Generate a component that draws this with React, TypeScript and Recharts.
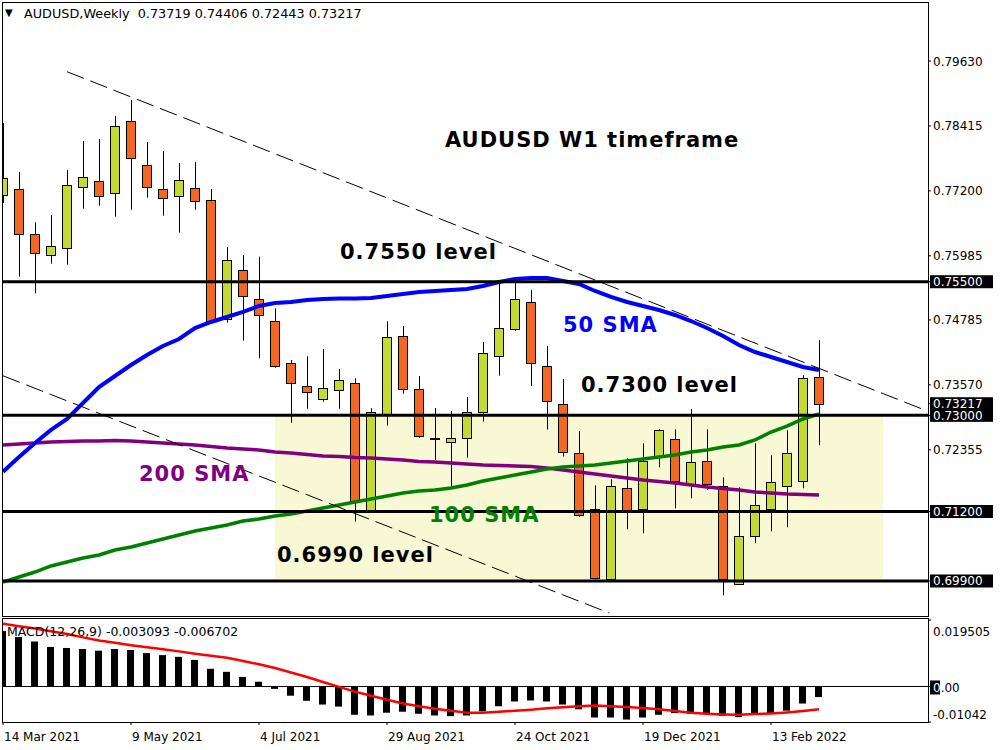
import React from "react";
import { ComposedChart, Bar, Line, XAxis, YAxis, ReferenceLine, ReferenceArea } from "recharts";

// weekly bars, index 0 = week of 14 Mar 2021, last = week of 6 Mar 2022
const weeks = Array.from({ length: 52 }, (_, k) => k);

const opens = [0.77123, 0.7723, 0.76388, 0.75995, 0.76126, 0.77267, 0.7738, 0.77155, 0.78502, 0.77679, 0.7723, 0.77099, 0.77249, 0.77024, 0.74797, 0.75714, 0.75171, 0.7476, 0.73974, 0.73543, 0.733, 0.73469, 0.736, 0.71223, 0.7302, 0.74479, 0.73487, 0.72576, 0.72496, 0.7257, 0.73057, 0.74105, 0.7461, 0.75115, 0.73918, 0.73207, 0.7229, 0.71253, 0.69932, 0.71635, 0.71242, 0.72215, 0.72552, 0.7171, 0.7214, 0.71672, 0.69838, 0.70737, 0.71242, 0.71672, 0.71766, 0.73719];
const highs = [0.78471, 0.77554, 0.76612, 0.76749, 0.77591, 0.78134, 0.78171, 0.78602, 0.78901, 0.78115, 0.77947, 0.77722, 0.77741, 0.77236, 0.7615, 0.76, 0.75969, 0.75003, 0.74036, 0.74105, 0.74241, 0.73867, 0.73693, 0.73132, 0.7476, 0.74672, 0.73736, 0.73137, 0.73081, 0.73343, 0.74372, 0.75471, 0.75514, 0.75346, 0.74298, 0.7368, 0.72707, 0.71691, 0.71803, 0.72196, 0.72477, 0.72739, 0.72739, 0.73119, 0.72739, 0.71841, 0.71653, 0.72477, 0.72252, 0.7272, 0.7375, 0.74406];
const lows = [0.76974, 0.75594, 0.75284, 0.75838, 0.75819, 0.76867, 0.76923, 0.76717, 0.76848, 0.77073, 0.76736, 0.76418, 0.76848, 0.74728, 0.74734, 0.74397, 0.74067, 0.73892, 0.72862, 0.73124, 0.73255, 0.73124, 0.7101, 0.7121, 0.72806, 0.73405, 0.72582, 0.72164, 0.71665, 0.72207, 0.72881, 0.73742, 0.74578, 0.73549, 0.72735, 0.7223, 0.71103, 0.69925, 0.69925, 0.70867, 0.70793, 0.72028, 0.7126, 0.71448, 0.71603, 0.69632, 0.6983, 0.70606, 0.7083, 0.70905, 0.71635, 0.72443];
const closes = [0.77441, 0.76388, 0.76032, 0.76163, 0.77305, 0.77454, 0.77099, 0.78409, 0.7781, 0.77267, 0.77062, 0.77398, 0.77005, 0.7476, 0.75901, 0.75228, 0.74872, 0.73918, 0.736, 0.73431, 0.73506, 0.73656, 0.71373, 0.73068, 0.7446, 0.73487, 0.72608, 0.7258, 0.7257, 0.73057, 0.74161, 0.74629, 0.75171, 0.73974, 0.73263, 0.72308, 0.71129, 0.69951, 0.71672, 0.71223, 0.7214, 0.7272, 0.71766, 0.72121, 0.7171, 0.69932, 0.70737, 0.71317, 0.71747, 0.7229, 0.737, 0.73217];

const sma50 = [0.71945, 0.7222, 0.72482, 0.72726, 0.72932, 0.73231, 0.7353, 0.73736, 0.73942, 0.74129, 0.74298, 0.74429, 0.74634, 0.74747, 0.7484, 0.74934, 0.75046, 0.75102, 0.75121, 0.75158, 0.75177, 0.75186, 0.75186, 0.75196, 0.75233, 0.75271, 0.75308, 0.75327, 0.75346, 0.75364, 0.7542, 0.75495, 0.75551, 0.7557, 0.7557, 0.75514, 0.75458, 0.75327, 0.75215, 0.75121, 0.75046, 0.74971, 0.74878, 0.74765, 0.74634, 0.74485, 0.74316, 0.74185, 0.74092, 0.73998, 0.73905, 0.73848];
const sma100 = [0.69881, 0.69975, 0.70068, 0.70181, 0.70256, 0.7033, 0.70387, 0.7048, 0.70536, 0.70611, 0.70686, 0.70761, 0.70836, 0.70892, 0.70948, 0.71023, 0.7106, 0.71116, 0.71154, 0.7121, 0.71266, 0.71322, 0.71378, 0.71434, 0.71491, 0.71547, 0.71584, 0.71603, 0.7164, 0.71696, 0.71771, 0.71827, 0.71884, 0.7194, 0.71996, 0.72033, 0.72052, 0.72071, 0.72108, 0.72146, 0.72183, 0.7222, 0.72258, 0.72314, 0.72351, 0.72408, 0.72445, 0.72539, 0.72688, 0.728, 0.72932, 0.73025];
const sma200 = [0.72445, 0.72464, 0.72482, 0.72501, 0.7251, 0.7252, 0.7252, 0.72529, 0.7252, 0.72501, 0.72482, 0.72464, 0.72445, 0.72417, 0.72389, 0.7237, 0.72351, 0.72314, 0.72295, 0.72267, 0.72239, 0.7223, 0.72211, 0.72202, 0.72183, 0.72164, 0.72136, 0.72127, 0.72108, 0.72089, 0.72071, 0.72061, 0.72052, 0.72043, 0.72015, 0.71977, 0.7194, 0.71902, 0.71865, 0.71827, 0.7179, 0.71762, 0.71734, 0.71696, 0.71659, 0.71631, 0.71603, 0.71565, 0.71547, 0.71528, 0.71519, 0.71509];

const macdHist = [0.0163, 0.0145, 0.0132, 0.0116, 0.0113, 0.011, 0.0105, 0.011, 0.0107, 0.0098, 0.0092, 0.0087, 0.0078, 0.0052, 0.0043, 0.0028, 0.0014, -0.0007, -0.0027, -0.0042, -0.0053, -0.0059, -0.0083, -0.0085, -0.0077, -0.0074, -0.008, -0.0085, -0.0087, -0.0085, -0.0073, -0.0058, -0.0044, -0.0041, -0.0044, -0.0053, -0.0067, -0.0091, -0.0091, -0.0097, -0.0091, -0.0083, -0.0078, -0.008, -0.008, -0.0086, -0.009, -0.0083, -0.0079, -0.0071, -0.005, -0.0031];
const macdSignal = [0.0184, 0.0177, 0.017, 0.0162, 0.0154, 0.0144, 0.0135, 0.0128, 0.0121, 0.0115, 0.0109, 0.0103, 0.0096, 0.009, 0.0084, 0.0075, 0.0065, 0.0054, 0.0041, 0.0028, 0.0013, -0.0001, -0.0015, -0.0027, -0.0039, -0.005, -0.0058, -0.0065, -0.0071, -0.0077, -0.0077, -0.0074, -0.0071, -0.0068, -0.0064, -0.0061, -0.0058, -0.0056, -0.0058, -0.006, -0.0063, -0.0067, -0.0072, -0.0077, -0.008, -0.0082, -0.0083, -0.0081, -0.0079, -0.0076, -0.0072, -0.0067];

const priceTicks = [0.7963, 0.78415, 0.772, 0.75985, 0.74785, 0.7357, 0.72355];
const markedLevels = [0.755, 0.73217, 0.73, 0.712, 0.699];
const levelLines = [0.755, 0.73, 0.712, 0.699];
const macdTicks = [0.019505, 0, -0.01042];
const dateTickIdx = [0, 8, 16, 24, 32, 40, 48];
const dateLabels = ["14 Mar 2021", "9 May 2021", "4 Jul 2021", "29 Aug 2021", "24 Oct 2021", "19 Dec 2021", "13 Feb 2022"];

// trend channel lines (week index, price)
const upperTrend = [{ x: 4, y: 0.7943 }, { x: 57.6, y: 0.731 }];
const lowerTrend = [{ x: 0, y: 0.7374 }, { x: 37.9, y: 0.693 }];
// shaded support zone
const zoneWeeks = [17, 55];
const zonePrices = [0.699, 0.73];

const X_MAX = 57.8125;
const UP = "#C5D934";
const DOWN = "#F26722";

const Candle = (props: any) => {
  const { x, y, width, height, payload } = props;
  if (!payload || !(height > 0)) return <g />;
  const { open, close, high, low } = payload;
  const yOf = (v: number) => y + ((high - v) / (high - low)) * height;
  const cx = Math.round(x + width / 2) + 0.5;
  const top = Math.round(yOf(Math.max(open, close))) + 0.5;
  const bot = Math.max(Math.round(yOf(Math.min(open, close))) + 0.5, top + 1);
  return (
    <g>
      <line x1={cx} x2={cx} y1={y} y2={top} stroke="#000" />
      <line x1={cx} x2={cx} y1={bot} y2={y + height} stroke="#000" />
      <rect x={cx - 5} y={top} width={9} height={bot - top} fill={close >= open ? UP : DOWN} stroke="#000" />
    </g>
  );
};

const PriceTick = (props: any) => {
  const { x, y, payload } = props;
  const v: number = payload.value;
  const txt = v.toFixed(5);
  if (markedLevels.includes(v)) {
    return (
      <g>
        <rect x={x - 3} y={y - 6.5} width={63} height={13} fill="#000" />
        <text x={x} y={y} dy={4.5} fontSize={12} fill="#fff">{txt}</text>
      </g>
    );
  }
  return <text x={x} y={y} dy={4.5} fontSize={12} fill="#000">{txt}</text>;
};

const MacdTick = (props: any) => {
  const { x, y, payload } = props;
  const v: number = payload.value;
  if (v === 0) {
    return (
      <g>
        <rect x={x - 3} y={y - 6} width={10} height={14} fill="#000" />
        <text x={x} y={y} dy={5.5} fontSize={12}>
          <tspan fill="#fff">0</tspan>
          <tspan fill="#000">.00</tspan>
        </text>
      </g>
    );
  }
  const label = v > 0 ? v.toFixed(6) : v.toFixed(5);
  return <text x={x} y={y} dy={v > 0 ? 15.5 : -3.5} fontSize={12} fill="#000">{label}</text>;
};

const DateTick = (props: any) => {
  const { x, y, payload } = props;
  const k = dateTickIdx.indexOf(payload.value);
  return <text x={x + 1} y={y} dy={14} fontSize={12} fill="#000">{dateLabels[k]}</text>;
};

const Note = ({ left, cy, color, children }: any) => (
  <div
    style={{
      position: "absolute",
      left,
      top: cy - 12,
      height: 24,
      lineHeight: "24px",
      fontSize: 21,
      fontWeight: "bold",
      letterSpacing: 1,
      color,
      whiteSpace: "nowrap",
    }}
  >
    {children}
  </div>
);

export default function App() {
  const rows = weeks.map((i, k) => ({
    i,
    open: opens[k],
    high: highs[k],
    low: lows[k],
    close: closes[k],
    sma50: sma50[k],
    sma100: sma100[k],
    sma200: sma200[k],
    macd: macdHist[k],
    signal: macdSignal[k],
  }));

  return (
    <div
      style={{
        position: "absolute",
        left: 0,
        top: 0,
        width: 1000,
        height: 750,
        background: "#fff",
        fontFamily: "'DejaVu Sans', sans-serif",
        overflow: "hidden",
      }}
    >
      {/* price panel */}
      <div style={{ position: "absolute", left: 0, top: 0 }}>
        <ComposedChart width={1000} height={616} data={rows} margin={{ top: 4, right: 0, bottom: 0, left: 3 }}>
          <XAxis type="number" dataKey="i" domain={[0, X_MAX]} hide allowDataOverflow />
          <YAxis
            orientation="right"
            width={72}
            domain={[0.69245, 0.80697]}
            allowDataOverflow
            ticks={[...priceTicks, ...markedLevels]}
            interval={0}
            tickSize={3}
            axisLine={false}
            tickLine={{ stroke: "#000" }}
            tick={<PriceTick />}
          />
          <ReferenceArea
            x1={zoneWeeks[0]}
            x2={zoneWeeks[1]}
            y1={zonePrices[0]}
            y2={zonePrices[1]}
            fill="#F8F8D4"
            fillOpacity={1}
            stroke="none"
            zIndex={50}
          />
          <Bar
            dataKey={(d: any) => [d.low, d.high]}
            barSize={10}
            shape={(p: any) => <Candle {...p} />}
            isAnimationActive={false}
            zIndex={300}
          />
          <Line dataKey="sma200" stroke="#800080" strokeWidth={3.5} dot={false} activeDot={false} isAnimationActive={false} zIndex={400} />
          <Line dataKey="sma100" stroke="#008000" strokeWidth={3.5} dot={false} activeDot={false} isAnimationActive={false} zIndex={400} />
          <Line dataKey="sma50" stroke="#0000FF" strokeWidth={4} dot={false} activeDot={false} isAnimationActive={false} zIndex={400} />
          {levelLines.map((v) => (
            <ReferenceLine key={v} y={v} stroke="#000" strokeWidth={3} zIndex={500} />
          ))}
          <ReferenceLine segment={upperTrend} stroke="#000" strokeDasharray="18 7" zIndex={510} />
          <ReferenceLine segment={lowerTrend} stroke="#000" strokeDasharray="18 7" zIndex={510} />
        </ComposedChart>
      </div>

      {/* MACD panel */}
      <div style={{ position: "absolute", left: 0, top: 616 }}>
        <ComposedChart width={1000} height={134} data={rows} margin={{ top: 4, right: 0, bottom: 0, left: 3 }}>
          <XAxis
            type="number"
            dataKey="i"
            domain={[0, X_MAX]}
            allowDataOverflow
            ticks={dateTickIdx}
            interval={0}
            height={28}
            tickSize={3}
            axisLine={false}
            tickLine={{ stroke: "#000" }}
            tick={<DateTick />}
          />
          <YAxis
            orientation="right"
            width={72}
            domain={[-0.01042, 0.019505]}
            allowDataOverflow
            ticks={macdTicks}
            interval={0}
            tickSize={3}
            axisLine={false}
            tickLine={{ stroke: "#000" }}
            tick={<MacdTick />}
          />
          <ReferenceLine y={0} stroke="#000" />
          <Bar dataKey="macd" fill="#000" barSize={7} isAnimationActive={false} />
          <Line dataKey="signal" stroke="#FF0000" strokeWidth={2.5} dot={false} activeDot={false} isAnimationActive={false} />
        </ComposedChart>
      </div>

      {/* panel frames */}
      <div style={{ position: "absolute", left: 2, top: 2, width: 927, height: 615, border: "1px solid #000", boxSizing: "border-box", pointerEvents: "none" }} />
      <div style={{ position: "absolute", left: 2, top: 618, width: 927, height: 105, border: "1px solid #000", boxSizing: "border-box", pointerEvents: "none" }} />

      {/* headers */}
      <div style={{ position: "absolute", left: 5, top: 7, fontSize: 10, lineHeight: "12px" }}>▼</div>
      <div style={{ position: "absolute", left: 24, top: 6, fontSize: 12.8, lineHeight: "15px", whiteSpace: "nowrap" }}>
        AUDUSD,Weekly&nbsp;&nbsp;0.73719 0.74406 0.72443 0.73217
      </div>
      <div style={{ position: "absolute", left: 7, top: 624, fontSize: 12.5, lineHeight: "15px", whiteSpace: "nowrap" }}>
        MACD(12,26,9) -0.003093 -0.006702
      </div>

      {/* annotations */}
      <Note left={445} cy={140} color="#000">AUDUSD W1 timeframe</Note>
      <Note left={340} cy={252} color="#000">0.7550 level</Note>
      <Note left={563} cy={325} color="#0000FF">50 SMA</Note>
      <Note left={581} cy={385} color="#000">0.7300 level</Note>
      <Note left={139} cy={474} color="#800080">200 SMA</Note>
      <Note left={429} cy={515} color="#008000">100 SMA</Note>
      <Note left={277} cy={555} color="#000">0.6990 level</Note>
    </div>
  );
}
